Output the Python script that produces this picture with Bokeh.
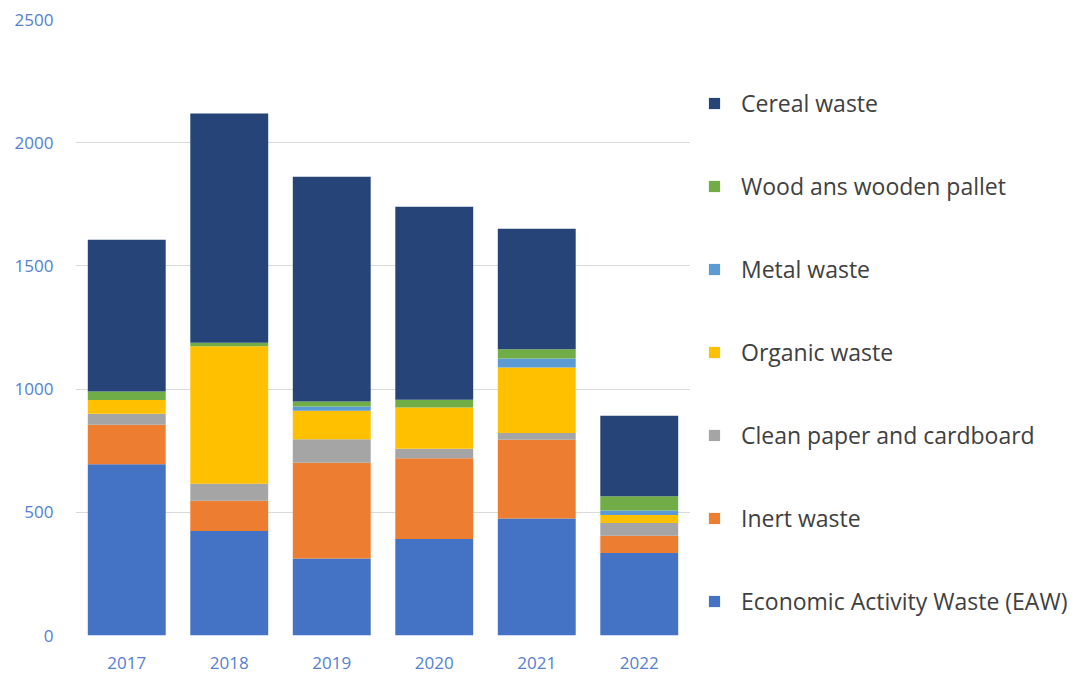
import math
from bokeh.plotting import figure
from bokeh.layouts import row
from bokeh.models import Legend, LegendItem, ColumnDataSource, FixedTicker, Range1d
from bokeh.embed import file_html
from bokeh.resources import INLINE

years = ["2017", "2018", "2019", "2020", "2021", "2022"]
eaw = [695, 424, 313, 392, 475, 335]
inert = [160, 123, 388, 327, 319, 70]
paper = [45, 69, 95, 39, 28, 52]
organic = [56, 558, 116, 167, 266, 32]
metal = [0, 0, 17, 0, 36, 18]
wood = [34, 14, 21, 32, 38, 58]
cereal = [616, 931, 912, 783, 489, 327]

series_names = ["Economic Activity Waste (EAW)", "Inert waste", "Clean paper and cardboard",
                "Organic waste", "Metal waste", "Wood ans wooden pallet", "Cereal waste"]
keys = ["eaw", "inert", "paper", "organic", "metal", "wood", "cereal"]
colors = ["#4472c4", "#ed7d31", "#a5a5a5", "#ffc000", "#5b9bd5", "#70ad47", "#264478"]
y_ticks = [0, 500, 1000, 1500, 2000, 2500]

source = ColumnDataSource(data=dict(years=years, eaw=eaw, inert=inert, paper=paper,
                                    organic=organic, metal=metal, wood=wood, cereal=cereal))

H = 674
p = figure(x_range=years, y_range=Range1d(0, 2500), width=690, height=H,
           output_backend="svg", toolbar_location=None,
           min_border_left=75, min_border_right=0, min_border_top=19, min_border_bottom=39)

p.vbar_stack(keys, x="years", width=0.76, fill_color=colors, line_color=None, source=source)

p.yaxis.ticker = FixedTicker(ticks=y_ticks)
for ax in (p.xaxis[0], p.yaxis[0]):
    ax.axis_line_color = None
    ax.major_tick_line_color = None
    ax.minor_tick_line_color = None
    ax.major_tick_out = 0
    ax.major_tick_in = 0
    ax.minor_tick_out = 0
    ax.major_label_text_color = "#5580d0"
    ax.major_label_text_font = "Open Sans"
    ax.major_label_text_font_size = "17px"
p.yaxis.major_label_standoff = 22
p.xaxis.major_label_standoff = 21
p.xgrid.grid_line_color = None
p.ygrid.grid_line_color = "#d9d9d9"
p.ygrid.grid_line_width = 1
p.outline_line_color = None

# legend panel
lg = figure(width=1076 - 690, height=H, output_backend="svg", toolbar_location=None,
            x_range=Range1d(0, 1), y_range=Range1d(0, 1),
            x_axis_type=None, y_axis_type=None,
            min_border_left=0, min_border_right=0, min_border_top=0, min_border_bottom=0)
lg.outline_line_color = None
lg.xgrid.grid_line_color = None
lg.ygrid.grid_line_color = None

items = []
for name, col in reversed(list(zip(series_names, colors))):
    r = lg.scatter(x=[math.nan], y=[math.nan], marker="square", fill_color=col, line_color=None)
    items.append(LegendItem(label=name, renderers=[r]))

legend = Legend(items=items, location=(10, 18), glyph_width=28, glyph_height=32,
                label_height=32, spacing=51, label_standoff=13, padding=0, margin=0,
                border_line_color=None, background_fill_alpha=0,
                label_text_font="Open Sans", label_text_font_size="23px",
                label_text_color="#404040")
lg.add_layout(legend)

layout = row(p, lg, spacing=0)
open("out.html", "w").write(file_html(layout, INLINE))
